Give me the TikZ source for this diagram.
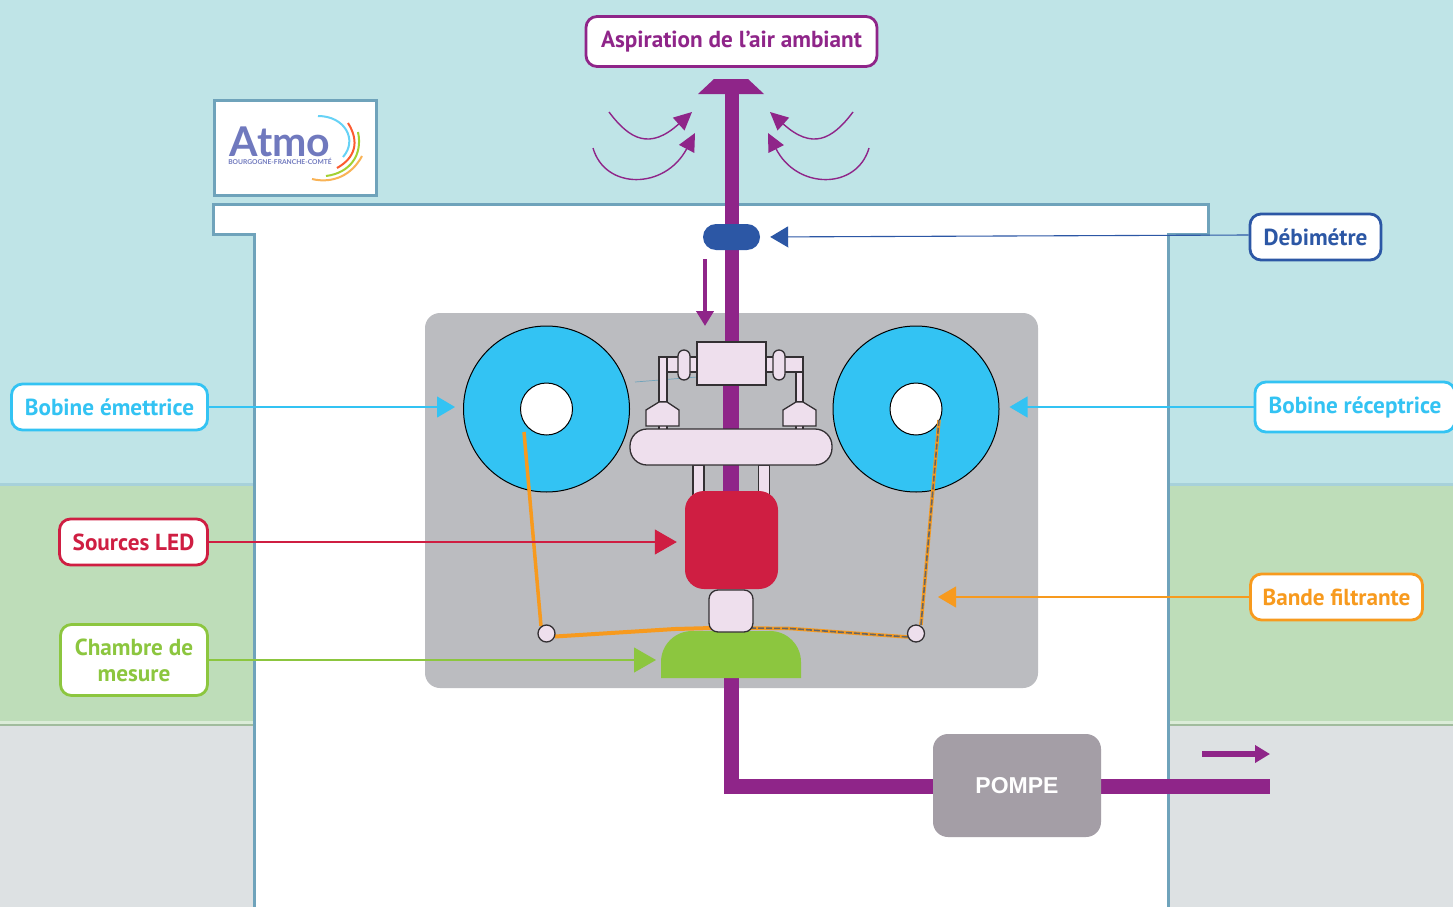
\documentclass[tikz,border=0pt]{standalone}
\usepackage{fontspec}
\setmainfont{Open Sans}
\newfontfamily\tagfont{PT Sans}
\newfontfamily\logofont{Lato}
\newfontfamily\pompefont{Liberation Sans}
\usetikzlibrary{arrows.meta,positioning}
\definecolor{ciel}{HTML}{BFE4E7}
\definecolor{prairie}{HTML}{BEDDB9}
\definecolor{sol}{HTML}{DDE1E3}
\definecolor{mur}{HTML}{6FA3BB}
\definecolor{violet}{HTML}{8F2589}
\definecolor{panneau}{HTML}{BBBCC0}
\definecolor{rose}{HTML}{EEDFED}
\definecolor{trait}{HTML}{333033}
\definecolor{cyan}{HTML}{33C3F3}
\definecolor{bleu}{HTML}{2C57A5}
\definecolor{rouge}{HTML}{CF1E42}
\definecolor{vert}{HTML}{8CC63F}
\definecolor{orange}{HTML}{F79A1E}
\definecolor{pompe}{HTML}{A49EA6}
\definecolor{atmo}{HTML}{7079BE}
\begin{document}
\begin{tikzpicture}[
  x=1pt, y=-1pt,
  tag/.style={draw=#1, text=#1, fill=white, line width=2.8pt, rounded corners=11pt, align=center,
              font=\tagfont\fontsize{23.2}{26}\selectfont\bfseries, inner sep=0pt, minimum height=46pt},
  piece/.style={draw=trait, fill=rose, line width=1.3pt, inner sep=0pt},
  pill/.style={piece, rounded corners=6pt, minimum width=12pt, minimum height=30pt},
  bobine/.style={circle, draw=black, fill=cyan, line width=1pt, minimum size=166pt, inner sep=0pt},
  hub/.style={circle, draw=black, fill=white, line width=1pt, minimum size=52pt, inner sep=0pt},
  roller/.style={circle, piece, minimum size=17pt},
  pipe/.style={violet, line width=15pt},
  arr/.style={-{Triangle[length=18pt,width=21pt]}, line width=1.1pt},
  bigarr/.style={-{Triangle[length=22pt,width=25pt]}, line width=1.1pt},
  flow/.style={-{Triangle[length=15pt,width=17pt]}, violet, line width=5.5pt},
  swirl/.style={-{Triangle[length=18pt,width=17pt]}, violet, line width=1.4pt}
]
\useasboundingbox (0,0) rectangle (1453,907);
\fill[ciel] (0,0) rectangle (1453,484);
\fill[prairie] (0,484) rectangle (1453,722);
\fill[sol] (0,722) rectangle (1453,907);
\fill[ciel!70!mur] (0,483) rectangle (1453,485.5);
\fill[prairie!55!white] (0,721) rectangle (1453,723.5);
\fill[prairie!85!black] (0,723.5) rectangle (1453,726);
\filldraw[mur, fill=white, line width=3pt] (213,204) -- (1208,204) -- (1208,234) -- (1168,234)
  -- (1168,910) -- (254,910) -- (254,234) -- (213,234) -- cycle;

\node[draw=mur, fill=white, line width=3pt, minimum width=162pt, minimum height=95pt] (logo) at (295.5,148) {};
\node[atmo, align=center, inner sep=0pt, font=\logofont\fontsize{6.7}{8}\selectfont\bfseries] (atmo) at (280,145.5)
  {{\fontsize{41}{8}\selectfont Atmo}\\BOURGOGNE-FRANCHE-COMTÉ};
\draw[cyan!75, line width=2pt] (318,116) .. controls (345,116) and (358,140) .. (343,157);
\draw[red!60!orange!85, line width=2pt] (348,123) .. controls (360,142) and (355,158) .. (337,168);
\draw[vert!80!yellow, line width=2pt] (358,132) .. controls (363,155) and (350,173) .. (326,176);
\draw[orange!75, line width=2pt] (362,156) .. controls (352,175) and (333,184) .. (312,179);

\fill[panneau, rounded corners=15pt] (425,313) rectangle (1038,688);

\draw[pipe, line width=14pt] (731.5,90) -- (731.5,342);
\draw[pipe, line width=16pt] (731,342) -- (731,500);
\fill[violet] (698,94) -- (714,79) -- (748,79) -- (764,94) -- cycle;
\draw[pipe] (731,670) -- (731,786) -- (1270,786);
\draw[swirl] (609,112) .. controls (630,140) and (650,150) .. (692,112);
\draw[swirl] (593,148) .. controls (605,190) and (665,190) .. (695,133);
\draw[swirl] (853,112) .. controls (832,140) and (812,150) .. (770,112);
\draw[swirl] (869,148) .. controls (857,190) and (797,190) .. (768,133);

\node[fill=bleu, rounded corners=13pt, minimum width=57pt, minimum height=26pt, inner sep=0pt] (debitmetre) at (731.5,237) {};
\coordinate (fluxhaut) at (705,259);
\coordinate (fluxbas) at (705,326);
\draw[flow, line width=4pt] (fluxhaut) -- (fluxbas);

\node[bobine] (emettrice) at (546.5,409) {};
\node[bobine] (receptrice) at (916,409) {};
\node[hub] (hubE) at (546.5,409) {};
\node[hub] (hubR) at (916,409) {};

\draw[mur, line width=0.7pt] (635,382) -- (697,377);
\node[piece, minimum width=37pt, minimum height=15pt] (brasG) at (678.5,364.5) {};
\node[piece, minimum width=37pt, minimum height=15pt] (brasD) at (784.5,364.5) {};
\node[piece, minimum width=8pt, minimum height=45pt] (tigeG) at (663,379.5) {};
\node[piece, minimum width=7pt, minimum height=30pt] (tigeD) at (799.5,387) {};
\node[piece, minimum width=8pt, minimum height=6pt] (piedG) at (663,428) {};
\node[piece, minimum width=7pt, minimum height=6pt] (piedD) at (799.5,428) {};
\filldraw[piece] (646,410) -- (659,402) -- (667,402) -- (679,410) -- (679,426) -- (646,426) -- cycle;
\filldraw[piece] (783,410) -- (796,402) -- (803,402) -- (816,410) -- (816,426) -- (783,426) -- cycle;
\node[pill] (pillG) at (684,365) {};
\node[pill] (pillD) at (779,365) {};
\node[piece, minimum width=69pt, minimum height=43pt] (tete) at (731.5,363.5) {};
\node[piece, minimum width=11pt, minimum height=30pt] (jambeG) at (698.5,480) {};
\node[piece, minimum width=11pt, minimum height=30pt] (jambeD) at (764,480) {};
\node[piece, rounded corners=17pt, minimum width=202pt, minimum height=36pt] (rampe) at (731,447) {};
\node[fill=rouge, rounded corners=19pt, minimum width=93pt, minimum height=98pt, inner sep=0pt] (led) at (731.5,540) {};

\fill[vert] (661,678) [rounded corners=31pt] -- (661,631) -- (801,631) [sharp corners] -- (801,678) -- cycle;
\coordinate (chambre) at (661,660);

\draw[orange, line width=3.5pt] (524,432) -- (541,626);
\draw[orange, line width=4pt] (555,636.5) -- (675,629) -- (712,628);
\draw[orange, line width=3.5pt] (750,628) -- (790,628.5) -- (908,637);
\draw[orange, line width=3.5pt] (921,625) -- (939,420);
\draw[black!60, line width=1.6pt, dash pattern=on 6pt off 2pt] (750,628) -- (790,628.5) -- (908,637);
\draw[black!60, line width=1.6pt, dash pattern=on 6pt off 2pt] (921,625) -- (939,420);
\node[piece, rounded corners=9pt, minimum width=44pt, minimum height=42pt] (capteur) at (731,611) {};
\node[roller] (rollerG) at (546.5,633.5) {};
\node[roller] (rollerD) at (916,633.5) {};

\node[fill=pompe, rounded corners=15pt, minimum width=168pt, minimum height=103pt, inner sep=0pt,
      text=white, font=\pompefont\fontsize{23}{23}\selectfont\bfseries] (pompe) at (1017,785.5) {POMPE};
\coordinate (sortieA) at (1202,754);
\coordinate (sortieB) at (1270,754);
\draw[flow] (sortieA) -- (sortieB);

\node[tag=violet, minimum width=291pt, minimum height=50pt] (aspiration) at (731.5,41.5) {Aspiration de l’air ambiant};
\node[tag=bleu, minimum width=131pt] (lblDebit) at (1315.5,237) {Débimétre};
\node[tag=cyan, minimum width=196pt] (lblEmet) at (109.5,407) {Bobine émettrice};
\node[tag=cyan, minimum width=200pt, minimum height=50pt] (lblRecep) at (1355,407) {Bobine réceptrice};
\node[tag=rouge, minimum width=148pt] (lblLed) at (133.5,542) {Sources LED};
\node[tag=vert, minimum width=147pt, minimum height=71pt] (lblChambre) at (134,660) {Chambre de\\mesure};
\node[tag=orange, minimum width=172pt] (lblBande) at (1336.5,597) {Bande filtrante};
\coordinate (bande) at (938,597);

\draw[arr, bleu, shorten >=10pt] ([yshift=2pt]lblDebit.west) -- (debitmetre.east);
\draw[arr, cyan, shorten >=8pt] (lblEmet.east) -- (lblEmet.east -| emettrice.west);
\draw[arr, cyan, shorten >=10pt] (lblRecep.west) -- (lblRecep.west -| receptrice.east);
\draw[bigarr, rouge, shorten >=8pt] (lblLed.east) -- (led.west |- lblLed.east);
\draw[bigarr, vert, shorten >=5pt] (lblChambre.east) -- (chambre);
\draw[arr, orange] (lblBande.west) -- (bande);
\end{tikzpicture}
\end{document}
